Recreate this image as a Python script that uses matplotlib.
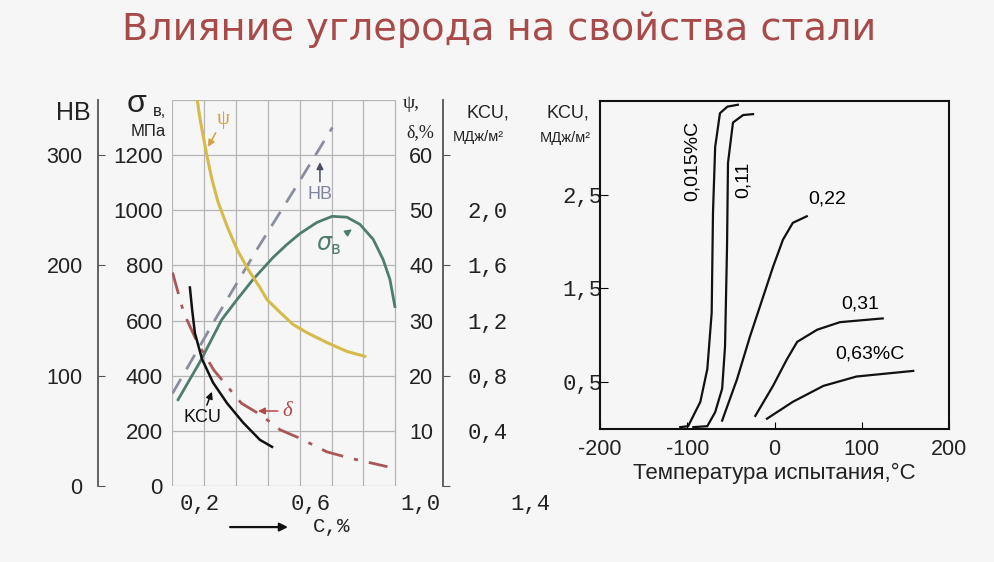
import matplotlib
matplotlib.use("Agg")
import matplotlib.pyplot as plt

plt.rcParams["font.family"] = ["Liberation Sans", "DejaVu Sans"]
MONO = "Liberation Mono"
SERIF = "Liberation Serif"

W, H = 994, 562

# ---- left chart: properties of steel vs carbon content (C, %) ----
c_sigma = [0.120, 0.200, 0.279, 0.334, 0.392, 0.465, 0.515, 0.563, 0.624, 0.679,
           0.733, 0.780, 0.828, 0.864, 0.889, 0.907]
sigma_b = [313, 451, 604, 676, 749, 829, 876, 916, 956, 978,
           975, 949, 895, 822, 749, 651]                                     # MPa

c_hb = [0.10, 0.25, 0.41, 0.55, 0.68]
hb = [84, 149, 216, 272, 325]

c_psi = [0.189, 0.200, 0.211, 0.225, 0.243, 0.265, 0.298, 0.334, 0.374, 0.417,
         0.443, 0.490, 0.537, 0.588, 0.661, 0.733, 0.799]
psi = [70.2, 66.5, 63.5, 59.8, 55.6, 51.5, 47.1, 42.9, 39.3, 36.0,
       33.8, 31.5, 29.3, 27.8, 26.0, 24.4, 23.5]                             # %

c_delta = [0.10, 0.14, 0.19, 0.25, 0.35, 0.42, 0.49, 0.56, 0.66, 0.74, 0.88]
delta = [38.7, 31.5, 26, 21, 15, 12.9, 10.2, 8.7, 6.2, 5.1, 3.5]             # %

c_kcu = [0.163, 0.171, 0.181, 0.207, 0.247, 0.298, 0.356, 0.417, 0.461]
kcu = [1.44, 1.28, 1.11, 0.92, 0.75, 0.60, 0.46, 0.335, 0.284]              # MJ/m2

c_ticks = [0.2, 0.6, 1.0, 1.4]
grid_c = [0.098, 0.214, 0.330, 0.446, 0.562, 0.678, 0.793, 0.907]
sigma_ticks = [0, 200, 400, 600, 800, 1000, 1200]
hb_ticks = [0, 100, 200, 300]
psi_major = [0, 20, 40, 60]
psi_minor = [10, 30, 50]
kcu_ticks = [0.4, 0.8, 1.2, 1.6, 2.0]

# ---- right chart: impact toughness vs test temperature ----
t_015 = [-108, -99, -85, -77, -72, -70.5, -68, -62.5, -54, -42]
k_015 = [0.02, 0.03, 0.29, 0.64, 1.24, 2.31, 3.01, 3.37, 3.44, 3.46]
t_011 = [-93, -77, -68, -60, -56.7, -54.4, -53.3, -47.6, -36, -24.6]
k_011 = [0.02, 0.03, 0.18, 0.43, 0.88, 1.95, 2.84, 3.27, 3.35, 3.36]
t_022 = [-60, -43, -28, -16.6, -1.7, 9.7, 21, 37]
k_022 = [0.09, 0.53, 0.99, 1.31, 1.73, 2.02, 2.20, 2.27]
t_031 = [-22, -1.7, 14, 26, 49, 75, 124]
k_031 = [0.14, 0.46, 0.74, 0.93, 1.06, 1.14, 1.18]
t_063 = [-8.6, 21, 56, 94, 159]
k_063 = [0.11, 0.29, 0.46, 0.56, 0.62]
t_ticks = [-200, -100, 0, 100, 200]
k_ticks = [0.5, 1.5, 2.5]


def comma(v):
    return f"{v:.1f}".replace(".", ",")


def fpos(x0, y0, x1, y1):
    return [x0 / W, 1 - y1 / H, (x1 - x0) / W, (y1 - y0) / H]


def ftext(x, y, s, **kw):
    kw.setdefault("ha", "center")
    kw.setdefault("va", "center")
    kw.setdefault("color", "#222222")
    fig.text(x / W, 1 - y / H, s, **kw)


fig = plt.figure(figsize=(W / 100, H / 100), dpi=100, facecolor="#f6f6f6")

ftext(499, 40, "Влияние углерода на свойства стали", fontsize=27.5, family="DejaVu Sans",
      color="#a84a4a", va="baseline")

# main (sigma) axes
ax = fig.add_axes(fpos(172, 100, 544.5, 486))
ax.set_facecolor("none")
ax.set_xlim(0.098, 1.45)
ax.set_ylim(0, 1400)
for s in ax.spines.values():
    s.set_visible(False)
ax.vlines(grid_c, 0, 1400, color="#b5b5b5", lw=0.9)
ax.hlines(list(range(0, 1401, 200)), grid_c[0], grid_c[-1], color="#b5b5b5", lw=0.9)
ax.set_yticks(sigma_ticks, labels=[str(v) for v in sigma_ticks])
ax.tick_params(axis="y", length=0, pad=6.5, labelsize=16, labelcolor="#222222")
ax.set_xticks(c_ticks, labels=[comma(v) for v in c_ticks])
ax.tick_params(axis="x", length=0, pad=6, labelsize=16, labelcolor="#222222")
for lbl in ax.get_xticklabels():
    lbl.set_fontfamily(MONO)


def make_twin(ylim, pos):
    t = ax.twinx()
    t.set_ylim(*ylim)
    t.yaxis.tick_left()
    for side in ["top", "bottom", "right"]:
        t.spines[side].set_visible(False)
    t.spines["left"].set_position(("axes", pos))
    return t


ax_hb = make_twin((0, 350), -0.1987)
ax_hb.spines["left"].set_color("#555555")
ax_hb.spines["left"].set_linewidth(1.3)
ax_hb.set_yticks(hb_ticks, labels=[str(v) for v in hb_ticks])
ax_hb.tick_params(direction="in", length=5, pad=11, labelsize=15.5, color="#555555",
                  labelcolor="#222222")

ax_psi = make_twin((0, 70), 0.7275)
ax_psi.spines["left"].set_color("#555555")
ax_psi.spines["left"].set_linewidth(1.3)
ax_psi.set_yticks(psi_major, labels=[""] + [str(v) for v in psi_major[1:]])
ax_psi.set_yticks(psi_minor, labels=[str(v) for v in psi_minor], minor=True)
ax_psi.tick_params(which="both", direction="in", pad=7, labelsize=15.5, color="#555555",
                   labelcolor="#222222")
ax_psi.tick_params(which="major", length=5)
ax_psi.tick_params(which="minor", length=0)

ax_kcu = make_twin((0, 2.8), 0.9128)
ax_kcu.spines["left"].set_visible(False)
ax_kcu.set_yticks(kcu_ticks, labels=[comma(v) for v in kcu_ticks])
ax_kcu.tick_params(length=0, pad=3, labelsize=16, labelcolor="#222222")
for lbl in ax_kcu.get_yticklabels():
    lbl.set_fontfamily(MONO)

# curves
ax_psi.plot(c_psi, psi, color="#d6ba4a", lw=2.2, solid_capstyle="round")
ax_psi.plot(c_delta, delta, color="#a85858", lw=2, dashes=(8, 4, 1.5, 4))
ax.plot(c_sigma, sigma_b, color="#4e7d6c", lw=2)
ax_hb.plot(c_hb, hb, color="#8a8d9e", lw=2, dashes=(6, 4))
ax_kcu.plot(c_kcu, kcu, color="#111111", lw=1.8)

arrow = dict(arrowstyle="-|>", lw=1.1, shrinkA=1, shrinkB=0, mutation_scale=10)
ax_psi.annotate("ψ", xy=(0.229, 61.5), xytext=(0.283, 66.5), color="#d9a040",
                fontsize=15, family=SERIF, ha="center", va="center",
                arrowprops=dict(arrow, color="#d9a040"))
ax_hb.annotate("HB", xy=(0.635, 293.6), xytext=(0.635, 264.5), color="#7f84a0",
               fontsize=13, ha="center", va="center",
               arrowprops=dict(arrow, color="#4a4f68"))
ax.annotate(r"$\sigma_{\rm в}$", xy=(0.751, 931), xytext=(0.668, 872), color="#4e7d6c",
            fontsize=17, ha="center", va="center",
            arrowprops=dict(arrow, color="#4e7d6c"))
ax_kcu.annotate("KCU", xy=(0.243, 0.684), xytext=(0.207, 0.495), color="#111111",
                fontsize=13, ha="center", va="center",
                arrowprops=dict(arrow, color="#111111"))
ax_psi.annotate("δ", xy=(0.410, 13.6), xytext=(0.515, 13.6), color="#b84848",
                fontsize=15, family=SERIF, style="italic", ha="center", va="center",
                arrowprops=dict(arrow, color="#b84848"))

ax.annotate("", xy=(0.519, -149), xytext=(0.309, -149), annotation_clip=False,
            arrowprops=dict(arrowstyle="-|>", lw=1.6, color="#111111", mutation_scale=12,
                            shrinkA=0, shrinkB=0))
ax.text(0.679, -147, "C,%", fontsize=15, family=MONO, ha="center", va="center",
        color="#222222")

# left headers
ftext(73, 113, "HB", fontsize=18)
ftext(137, 104, "σ", fontsize=23)
ftext(159, 111, "в,", fontsize=12)
ftext(148, 131, "МПа", fontsize=12)
ftext(411, 104, "ψ,", fontsize=14, family=SERIF)
ftext(420, 133, "δ,%", fontsize=13, family=SERIF)
ftext(488, 113, "KCU,", fontsize=13)
ftext(478, 137, "МДж/м²", fontsize=10.5)

# ---- right chart ----
axr = fig.add_axes(fpos(600, 101, 949, 429))
axr.set_facecolor("none")
axr.set_xlim(-200, 200)
axr.set_ylim(0, 3.5)
for s in axr.spines.values():
    s.set_linewidth(1.5)
    s.set_color("#111111")
for t, k in [(t_015, k_015), (t_011, k_011), (t_022, k_022), (t_031, k_031), (t_063, k_063)]:
    axr.plot(t, k, color="#111111", lw=1.6)
axr.set_xticks(t_ticks, labels=[str(v) for v in t_ticks])
axr.tick_params(axis="x", direction="in", length=5, pad=7, labelsize=15.5, labelcolor="#222222")
axr.set_yticks(k_ticks, labels=[comma(v) for v in k_ticks])
axr.tick_params(axis="y", direction="in", length=6, pad=-2, labelsize=16, labelcolor="#222222")
for lbl in axr.get_yticklabels():
    lbl.set_fontfamily(MONO)
axr.set_xlabel("Температура испытания,°C", fontsize=16, labelpad=2, color="#222222")

axr.text(-94.5, 2.86, "0,015%C", rotation=90, fontsize=14, ha="center", va="center")
axr.text(-36, 2.66, "0,11", rotation=90, fontsize=14, ha="center", va="center")
axr.text(60, 2.45, "0,22", fontsize=14, ha="center", va="center")
axr.text(98, 1.33, "0,31", fontsize=14, ha="center", va="center")
axr.text(109, 0.80, "0,63%C", fontsize=14, ha="center", va="center")

ftext(568, 113, "KCU,", fontsize=13)
ftext(565, 138, "МДж/м²", fontsize=10.5)

fig.savefig("out.png", dpi=100, facecolor=fig.get_facecolor())
